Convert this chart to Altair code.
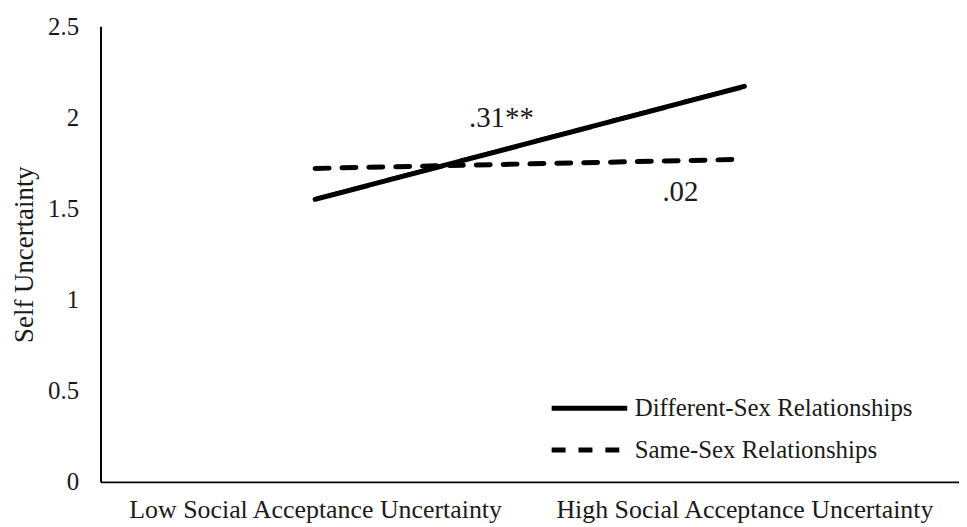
import altair as alt
import pandas as pd

categories = ["Low Social Acceptance Uncertainty", "High Social Acceptance Uncertainty"]
category_pos = [0.5, 1.5]
series = ["Different-Sex Relationships", "Same-Sex Relationships"]
different_sex = [1.55, 2.17]
same_sex = [1.72, 1.77]
y_ticks = [0, 0.5, 1, 1.5, 2, 2.5]

annot_text = [".31**", ".02"]
annot_x = [0.934, 1.351]
annot_y = [1.994, 1.589]

rows = []
for name, vals in zip(series, [different_sex, same_sex]):
    for c, p, v in zip(categories, category_pos, vals):
        rows.append({"series": name, "category": c, "pos": p, "value": v})
df = pd.DataFrame(rows)
ann = pd.DataFrame({"label": annot_text, "x": annot_x, "y": annot_y})

FONT = "Liberation Serif"
TXT = "#1a1a1a"
label_expr = "datum.value < 1 ? '%s' : '%s'" % (categories[0], categories[1])

x_scale = alt.Scale(domain=[0, 2], nice=False, zero=False)
y_scale = alt.Scale(domain=[0, 2.5], nice=False)

lines = alt.Chart(df).mark_line(strokeWidth=5, strokeCap="round", color="black").encode(
    x=alt.X("pos:Q", scale=x_scale,
            axis=alt.Axis(values=category_pos, labelExpr=label_expr, title=None,
                          ticks=False, grid=False, domainColor="black", domainWidth=2,
                          labelFont=FONT, labelFontSize=26, labelColor=TXT,
                          labelPadding=15, labelLimit=500)),
    y=alt.Y("value:Q", scale=y_scale,
            axis=alt.Axis(values=y_ticks, format="~g", title="Self Uncertainty",
                          ticks=False, grid=False, domainColor="black", domainWidth=2,
                          labelFont=FONT, labelFontSize=25, labelColor=TXT,
                          labelPadding=22, titleFont=FONT, titleFontSize=27,
                          titleFontWeight="normal", titleColor=TXT, titlePadding=9)),
    strokeDash=alt.StrokeDash("series:N",
        scale=alt.Scale(domain=series, range=[[1, 0], [14, 13]]),
        legend=alt.Legend(title=None, orient="none", legendX=451, legendY=373,
                          symbolType="stroke", symbolSize=5776, symbolStrokeWidth=5,
                          symbolStrokeColor="black", clipHeight=22, rowPadding=17,
                          labelFont=FONT, labelFontSize=25, labelColor=TXT,
                          labelOffset=5, labelLimit=500)),
    detail="series:N",
)

texts = alt.Chart(ann).mark_text(font=FONT, fontSize=29, color=TXT, baseline="middle").encode(
    x=alt.X("x:Q", scale=x_scale),
    y=alt.Y("y:Q", scale=y_scale),
    text="label:N",
)

chart = alt.layer(lines, texts).properties(
    width=863, height=458,
    autosize=alt.AutoSizeParams(type="none"),
    padding={"left": 93, "top": 17, "right": 0, "bottom": 44},
).configure(background="white").configure_view(stroke=None)

chart.save("out.html", embed_options={"renderer": "svg", "actions": False})
